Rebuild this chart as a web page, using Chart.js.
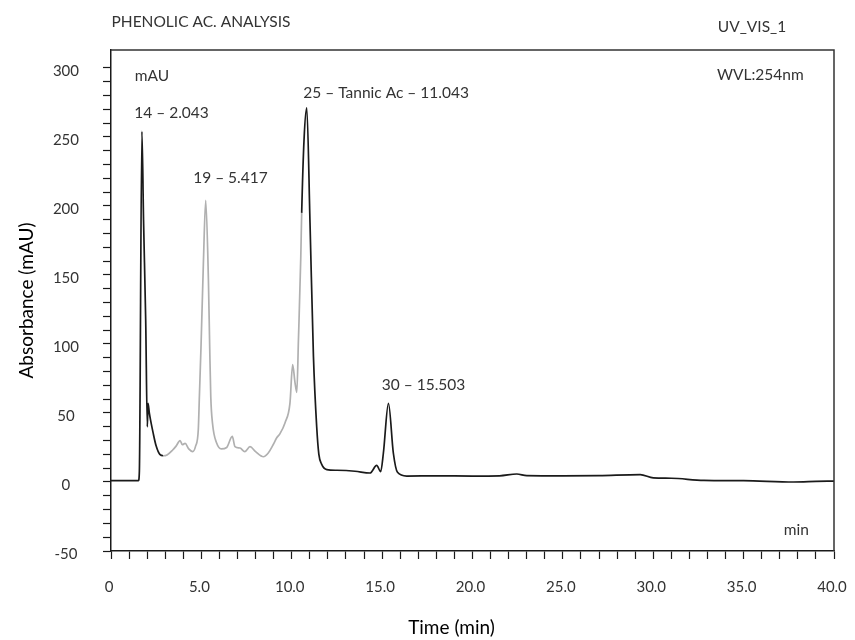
<!DOCTYPE html>
<html>
<head>
<meta charset="utf-8">
<title>Phenolic acid analysis – chromatogram</title>
<script src="https://cdn.jsdelivr.net/npm/chart.js@4.4.0/dist/chart.umd.min.js"></script>
<style>
  html, body { margin: 0; padding: 0; background: #fff; }
  canvas { display: block; }
</style>
</head>
<body>
<canvas id="chromatogram" width="855" height="640"></canvas>
<script>
/* ---------- data ---------- */
const retentionTimes = [
  0, 1.0, 1.52, 1.57, 1.71, 1.80, 1.92, 2.01, 2.05, 2.12, 2.34, 2.50, 2.70, 2.90,
  3.10, 3.40, 3.60, 3.82, 3.95, 4.10, 4.30, 4.52, 4.68, 4.83, 4.89, 4.98, 5.11,
  5.24, 5.39, 5.46, 5.52, 5.62, 5.85, 6.10, 6.40, 6.71, 6.86, 7.14, 7.40, 7.69,
  8.00, 8.43, 8.70, 8.97, 9.17, 9.35, 9.63, 9.90, 10.05, 10.18, 10.28, 10.37,
  10.50, 10.55, 10.68, 10.83, 11.01, 11.20, 11.38, 11.50, 11.65, 11.94, 12.50,
  13.50, 14.33, 14.70, 14.92, 15.07, 15.35, 15.62, 15.85, 16.36, 18.0, 20.0,
  21.5, 22.45, 23.0, 25.0, 27.0, 29.28, 30.0, 31.0, 32.8, 35.0, 37.76, 39.0, 40.0
];
const absorbance = [
  1, 1, 1, 8, 254, 190, 117, 40, 57, 50, 35, 26, 20, 19,
  19.6, 23, 26, 30, 27, 28, 24, 22, 26, 38, 62, 98, 158,
  204, 146, 98, 62, 42, 28, 24, 25, 33, 25.6, 24.6, 22, 25.6,
  22, 18.3, 21, 27, 32, 35, 43, 57, 85, 72, 65, 103,
  163, 195, 248, 271, 188, 91, 40, 20, 13, 9, 8.5,
  7.8, 6.5, 12, 7.5, 21, 57, 21, 7, 4.3, 4.5, 4.3,
  4.5, 5.8, 4.6, 4.4, 4.6, 5.3, 3, 2.7, 1.2, 1, 0, 0.4, 0.7
];
// stretch of the trace printed in light grey
const greyFrom = 2.75;
const greyTo = 10.56;

const xTickLabels = ["0", "5.0", "10.0", "15.0", "20.0", "25.0", "30.0", "35.0", "40.0"];
const yTickLabels = ["-50", "0", "50", "100", "150", "200", "250", "300"];

// text placed in data units (time, mAU)
const peakLabels = [
  { text: "mAU", t: 2.27, v: 294 },
  { text: "14 \u2013 2.043", t: 3.35, v: 267 },
  { text: "19 \u2013 5.417", t: 6.61, v: 220 },
  { text: "25 \u2013 Tannic Ac \u2013 11.043", t: 15.22, v: 282 },
  { text: "30 \u2013 15.503", t: 17.29, v: 70 },
  { text: "WVL:254nm", t: 35.92, v: 295 },
  { text: "min", t: 37.91, v: -35 }
];

/* ---------- look ---------- */
const FONT = "Lato, 'Open Sans', sans-serif";
const labelGrey = "#333";
const inkColor = "#1a1a1a";
const traceGrey = "#b0b0b0";

const frameAndText = {
  id: "frameAndText",
  afterDraw(chart) {
    const { ctx, chartArea, scales } = chart;
    const x = scales.x, y = scales.y;
    ctx.save();
    // box around the plot
    ctx.strokeStyle = "#333";
    ctx.lineWidth = 1.5;
    ctx.beginPath();
    ctx.moveTo(chartArea.left, chartArea.top);
    ctx.lineTo(chartArea.right, chartArea.top);
    ctx.lineTo(chartArea.right, chartArea.bottom);
    ctx.stroke();

    ctx.fillStyle = labelGrey;
    ctx.textAlign = "center";
    ctx.textBaseline = "middle";
    ctx.font = "15.5px " + FONT;
    peakLabels.forEach((p) => {
      ctx.fillText(p.text, x.getPixelForValue(p.t), y.getPixelForValue(p.v));
    });

    // header line above the plot
    ctx.fillText("PHENOLIC AC. ANALYSIS", chartArea.left + 90, chartArea.top - 28);
    ctx.fillText("UV_VIS_1", chartArea.right - 82, chartArea.top - 23);

    // x axis title, sits a little left of centre in the original
    ctx.fillStyle = "#000";
    ctx.font = "19px " + FONT;
    ctx.fillText("Time (min)", (chartArea.left + chartArea.right) / 2 - 21, chartArea.bottom + 77);
    ctx.restore();
  }
};

const points = retentionTimes.map((t, i) => ({ x: t, y: absorbance[i] }));

new Chart(document.getElementById("chromatogram"), {
  type: "line",
  data: {
    datasets: [
      {
        label: "UV_VIS_1",
        data: points,
        borderColor: inkColor,
        borderWidth: 1.7,
        pointRadius: 0,
        cubicInterpolationMode: "monotone",
        fill: false,
        segment: {
          borderColor: (c) =>
            c.p0.parsed.x >= greyFrom && c.p1.parsed.x <= greyTo ? traceGrey : inkColor
        }
      }
    ]
  },
  options: {
    responsive: false,
    animation: false,
    devicePixelRatio: 1,
    layout: { padding: { top: 50, right: 21, bottom: 0, left: 0 } },
    plugins: { legend: { display: false }, tooltip: { enabled: false } },
    scales: {
      x: {
        type: "linear",
        min: 0,
        max: 40,
        ticks: {
          stepSize: 1,
          autoSkip: false,
          maxRotation: 0,
          padding: 19,
          labelOffset: -2,
          color: labelGrey,
          font: { family: FONT, size: 15 },
          callback: (v) => (v % 5 === 0 ? xTickLabels[v / 5] : "")
        },
        grid: { drawOnChartArea: false, tickLength: 8, tickColor: inkColor, tickWidth: 1.2 },
        border: { color: inkColor, width: 1.5 },
        title: { display: false },
        afterFit(s) {
          s.height = 89;
          s.paddingLeft = 0;
          s.paddingRight = 0;
        }
      },
      y: {
        min: -50,
        max: 313,
        afterBuildTicks(s) {
          s.ticks = s.ticks.filter((t) => t.value % 10 === 0);
        },
        ticks: {
          stepSize: 10,
          autoSkip: false,
          padding: 24,
          crossAlign: "center",
          labelOffset: 3,
          color: labelGrey,
          font: { family: FONT, size: 15 },
          callback: (v) => (v % 50 === 0 ? yTickLabels[(v + 50) / 50] : "")
        },
        grid: { drawOnChartArea: false, tickLength: 8, tickColor: inkColor, tickWidth: 1.2 },
        border: { color: inkColor, width: 1.5 },
        title: {
          display: true,
          text: "Absorbance (mAU)",
          color: "#000",
          font: { family: FONT, size: 19 },
          padding: 15
        },
        afterFit(s) {
          s.width = 111;
          s.paddingTop = 0;
          s.paddingBottom = 0;
        }
      }
    }
  },
  plugins: [frameAndText]
});
</script>
</body>
</html>
